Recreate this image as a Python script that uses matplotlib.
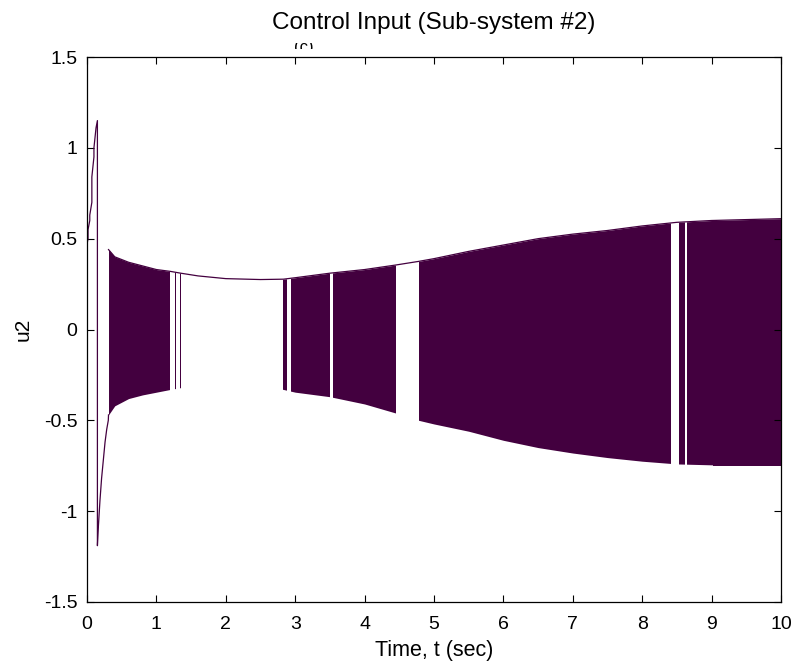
import matplotlib
matplotlib.use("Agg")
import matplotlib.pyplot as plt
from matplotlib.path import Path
from matplotlib.patches import PathPatch
from matplotlib.transforms import Bbox

plt.rcParams['font.family'] = ['Liberation Sans', 'DejaVu Sans']

# ---- data ----
# initial transient (time, u2)
t_init = [0.0, 0.015, 0.015, 0.04, 0.04, 0.07, 0.07, 0.10, 0.10, 0.13, 0.15, 0.15,
          0.163, 0.187, 0.21, 0.235, 0.26, 0.284, 0.307, 0.31]
u_init = [0.47, 0.50, 0.55, 0.60, 0.63, 0.70, 0.84, 0.95, 1.00, 1.11, 1.15, -1.19,
          -1.09, -0.94, -0.82, -0.72, -0.62, -0.55, -0.50, -0.47]

# envelope of the chattering signal
t_env = [0.31, 0.4, 0.6, 0.8, 1.0, 1.2, 1.35, 1.6, 2.0, 2.5, 2.83, 3.0, 3.5, 4.0,
         4.45, 4.78, 5.0, 5.5, 6.0, 6.5, 7.0, 7.5, 8.0, 8.5, 9.0, 10.0]
up_env = [0.44, 0.40, 0.37, 0.35, 0.33, 0.32, 0.31, 0.295, 0.28, 0.275, 0.277, 0.285,
          0.31, 0.33, 0.355, 0.375, 0.39, 0.43, 0.465, 0.50, 0.525, 0.545, 0.57,
          0.59, 0.60, 0.61]
lo_env = [-0.47, -0.42, -0.38, -0.36, -0.345, -0.33, -0.32, -0.31, -0.30, -0.31,
          -0.33, -0.345, -0.37, -0.41, -0.46, -0.50, -0.52, -0.56, -0.61, -0.65,
          -0.68, -0.705, -0.725, -0.74, -0.745, -0.745]

# time intervals where the control chatters (switches between envelopes)
bands = [(0.31, 1.19), (1.27, 1.285), (1.34, 1.355),
         (2.83, 2.85), (2.86, 2.875), (2.935, 3.50), (3.55, 4.45),
         (4.78, 8.42), (8.53, 8.615), (8.645, 10.0)]

x_ticks = [0, 1, 2, 3, 4, 5, 6, 7, 8, 9, 10]
y_ticks = [-1.5, -1, -0.5, 0, 0.5, 1, 1.5]
y_tick_labels = ['-1.5', '-1', '-0.5', '0', '0.5', '1', '1.5']

color = '#43003f'

fig = plt.figure(figsize=(7.93, 6.62), dpi=100)
ax = fig.add_axes([87/793, 60/662, (781-87)/793, (602-57)/662])

# clip region made of the chattering intervals
verts, codes = [], []
for a, b in bands:
    verts += [(a, -2), (b, -2), (b, 2), (a, 2), (a, -2)]
    codes += [Path.MOVETO, Path.LINETO, Path.LINETO, Path.LINETO, Path.CLOSEPOLY]
clip = PathPatch(Path(verts, codes), transform=ax.transData,
                 facecolor='none', edgecolor='none')
ax.add_patch(clip)
poly = ax.fill_between(t_env, up_env, lo_env, color=color, lw=0)
poly.set_clip_path(clip)

ax.plot(t_init, u_init, color=color, lw=0.9)
ax.plot(t_env, up_env, color=color, lw=0.9)

ax.set_xlim(0, 10)
ax.set_ylim(-1.5, 1.5)
ax.set_xticks(x_ticks)
ax.set_yticks(y_ticks)
ax.set_yticklabels(y_tick_labels)
ax.tick_params(direction='in', length=5, width=0.8, top=True, right=True,
               labelsize=14, colors='black')
ax.tick_params(axis='x', pad=10)
ax.tick_params(axis='y', pad=7)
for s in ax.spines.values():
    s.set_linewidth(0.9)

ax.set_xlabel('Time, t (sec)', fontsize=15.5, labelpad=5)
ax.set_ylabel('u2', fontsize=15, labelpad=8)
ax.set_title('Control Input (Sub-system #2)', fontsize=17.5, pad=20)

# partially hidden label above the axes
txt = fig.text(304/793, 1 - 40/662, '(c)', fontsize=12, ha='center', va='top', zorder=-1)
txt.set_clip_box(Bbox([[0, 662 - 49], [793, 662 - 43]]))
txt.set_clip_on(True)

fig.savefig('out.png', dpi=100)
